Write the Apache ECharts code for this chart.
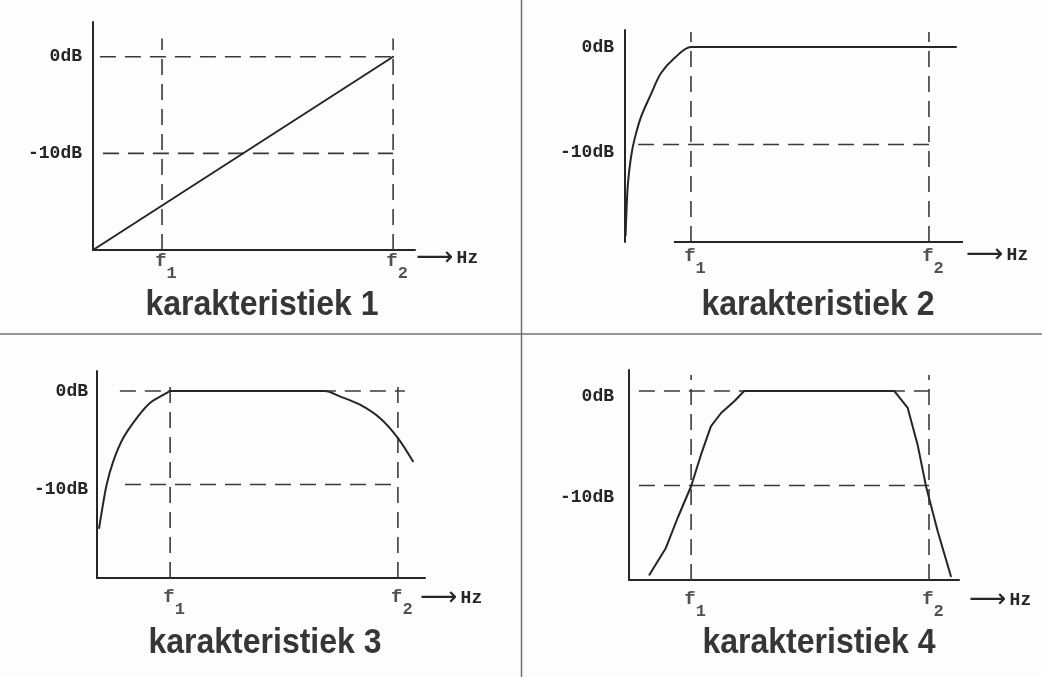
<!DOCTYPE html>
<html><head><meta charset="utf-8">
<script src="https://cdn.jsdelivr.net/npm/echarts@6/dist/echarts.min.js"></script>
<style>html,body{margin:0;padding:0;background:#fff}#c{width:1042px;height:677px}</style>
</head><body><div id="c"></div>
<script>
// ---- data ----
const panelTitles = ['karakteristiek 1', 'karakteristiek 2', 'karakteristiek 3', 'karakteristiek 4'];
const dbLevels = [0, -10];
const dbLabels = ['0dB', '-10dB'];
const freqNames = ['f', 'f'];
const freqSubs = ['1', '2'];
const unitLabel = 'Hz';
const f1Values = [2.3, 2.17, 2.43, 2.07];
const f2Values = [10, 10, 10, 10];
const curve1 = [[0, -20], [10, 0]];
const curve2 = [[0.02, -19.3], [0.09, -14.3], [0.20, -11.25], [0.31, -9.5], [0.53, -7.15],
  [0.86, -4.8], [1.18, -2.7], [1.62, -1.16], [2.17, 0], [10.89, 0]];
const curve3 = [[0.07, -14.65], [0.16, -12.87], [0.32, -10.02], [0.54, -7.52], [0.87, -5.03], [1.32, -2.89],
  [1.76, -1.28], [2.32, -0.21], [2.43, 0], [7.57, 0], [8.07, -0.57], [8.74, -1.47], [9.40, -2.89],
  [10.0, -5.03], [10.5, -7.52]];
const curve4 = [[0.68, -19.44], [1.23, -16.61], [1.62, -13.44], [2.07, -10.08], [2.40, -6.74], [2.73, -3.74],
  [3.07, -2.33], [3.51, -1.09], [3.84, 0], [8.84, 0], [9.29, -1.80], [9.62, -5.68], [9.9, -10.08],
  [10.29, -14.85], [10.73, -19.6]];
const curves = [curve1, curve2, curve3, curve4];
const curveSmooth = [false, 0.3, 0.3, false];
// extents of the dashed guide lines [start, end] per panel (null = none)
const guide0dB = [[0.23, 10.23], null, [0.76, 10.23], [0.33, 10.0]];
const guide10dB = [[0.33, 10.0], [0.43, 10.0], [0.93, 10.07], [0.33, 10.0]];
const guideTop = [1.9, 1.54, 1.39, 1.69];
const xAxisStart2 = 1.61;

// ---- layout ----
const Y_MIN = -20;
const panels = [
  {left: 93, top: 22, width: 322, height: 228, xmax: 10.73, ymax: 3.6, labMargin: 11, shift0: 0, shift10: 0,
   fDist: 2, nameGap: 1, namePad: 16, showX: true, tx: 262, ty: 305},
  {left: 625, top: 30, width: 338, height: 212, xmax: 11.12, ymax: 1.744, labMargin: 11, shift0: 0, shift10: 16,
   fDist: 5, nameGap: 3, namePad: 26, showX: false, tx: 818, ty: 305},
  {left: 97, top: 371, width: 328, height: 207, xmax: 10.9, ymax: 2.139, labMargin: 9, shift0: 0, shift10: 10,
   fDist: 10, nameGap: -5, namePad: 40, showX: true, tx: 265, ty: 643},
  {left: 629, top: 370, width: 330, height: 210, xmax: 11.0, ymax: 2.22, labMargin: 15, shift0: 10, shift10: 24,
   fDist: 10, nameGap: 10, namePad: 40, showX: true, tx: 819, ty: 643}
];

const INK = '#262626';
const MONO = '"Liberation Mono", "DejaVu Sans Mono", monospace';
const grid = [], xAxis = [], yAxis = [], series = [], graphic = [];

panels.forEach((p, i) => {
  grid.push({left: p.left, top: p.top, width: p.width, height: p.height, containLabel: false});
  xAxis.push({
    type: 'value', gridIndex: i, min: 0, max: p.xmax,
    axisLine: {show: p.showX, onZero: false, lineStyle: {color: INK, width: 2}},
    axisTick: {show: false}, axisLabel: {show: false}, splitLine: {show: false},
    name: '{a|\u27F6} {h|' + unitLabel + '}', nameLocation: 'end', nameGap: p.nameGap,
    nameTextStyle: {
      padding: [p.namePad, 0, 0, 0],
      rich: {
        a: {fontFamily: 'DejaVu Sans', fontSize: 26, color: INK, lineHeight: 20},
        h: {fontFamily: MONO, fontWeight: 'bold', fontSize: 18, color: INK, lineHeight: 20}
      }
    }
  });
  yAxis.push({
    type: 'value', gridIndex: i, min: Y_MIN, max: p.ymax, interval: 10,
    axisLine: {show: true, onZero: false, lineStyle: {color: INK, width: 2}},
    axisTick: {show: false}, splitLine: {show: false},
    axisLabel: {
      margin: p.labMargin, showMinLabel: true, showMaxLabel: false,
      formatter: v => {
        const k = dbLevels.indexOf(v);
        if (k < 0) return '';
        return (k === 0 ? '{z|' : '{t|') + dbLabels[k] + '}';
      },
      rich: {
        z: {fontFamily: MONO, fontWeight: 'bold', fontSize: 18, color: INK, padding: [p.shift0, 0, 0, 0]},
        t: {fontFamily: MONO, fontWeight: 'bold', fontSize: 18, color: INK, padding: [p.shift10, 0, 0, 0]}
      }
    }
  });
  const dashed = {color: '#3a3a3a', width: 1.6, type: [16, 9]};
  const f1 = f1Values[i], f2 = f2Values[i];
  const guides = [
    [[f1, Y_MIN], [f1, guideTop[i]]],
    [[f2, Y_MIN], [f2, guideTop[i]]],
    [[guide10dB[i][0], -10], [guide10dB[i][1], -10]]
  ];
  if (guide0dB[i]) guides.push([[guide0dB[i][0], 0], [guide0dB[i][1], 0]]);
  guides.forEach(g => series.push({
    type: 'line', xAxisIndex: i, yAxisIndex: i, data: g, symbol: 'none', clip: false,
    lineStyle: dashed, silent: true, animation: false
  }));
  if (!p.showX) {
    series.push({
      type: 'line', xAxisIndex: i, yAxisIndex: i, data: [[xAxisStart2, Y_MIN], [p.xmax, Y_MIN]],
      symbol: 'none', clip: false, lineStyle: {color: INK, width: 2}, silent: true, animation: false
    });
  }
  series.push({
    type: 'line', xAxisIndex: i, yAxisIndex: i, data: curves[i], symbol: 'none', clip: false,
    smooth: curveSmooth[i], lineStyle: {color: INK, width: 2, join: 'round', cap: 'round'},
    silent: true, animation: false
  });
  series.push({
    type: 'scatter', xAxisIndex: i, yAxisIndex: i, data: [[f1, Y_MIN], [f2, Y_MIN]], symbolSize: 0,
    silent: true, animation: false,
    label: {
      show: true, position: 'bottom', distance: p.fDist, offset: [4, 0],
      formatter: prm => '{f|' + freqNames[prm.dataIndex] + '}{s|' + freqSubs[prm.dataIndex] + '}',
      rich: {
        f: {fontFamily: MONO, fontWeight: 'bold', fontSize: 19, color: INK, lineHeight: 20, verticalAlign: 'top'},
        s: {fontFamily: MONO, fontWeight: 'bold', fontSize: 17, color: INK, lineHeight: 20, verticalAlign: 'top', padding: [13, 0, 0, 0]}
      }
    }
  });
  graphic.push({
    type: 'text', x: p.tx, y: p.ty, scaleY: 1.1, silent: true,
    style: {text: panelTitles[i], x: 0, y: 0, align: 'center', verticalAlign: 'middle',
      font: 'bold 32px "Liberation Sans", Arial, sans-serif', fill: '#363636'}
  });
});

graphic.push({type: 'line', silent: true, shape: {x1: 0, y1: 334, x2: 1042, y2: 334}, style: {stroke: '#707070', lineWidth: 1.5}});
graphic.push({type: 'line', silent: true, shape: {x1: 521.5, y1: 0, x2: 521.5, y2: 677}, style: {stroke: '#707070', lineWidth: 1.5}});

const chart = echarts.init(document.getElementById('c'), null, {renderer: 'canvas'});
chart.setOption({backgroundColor: '#fdfdfd', animation: false, grid, xAxis, yAxis, series, graphic});
</script>
</body></html>
